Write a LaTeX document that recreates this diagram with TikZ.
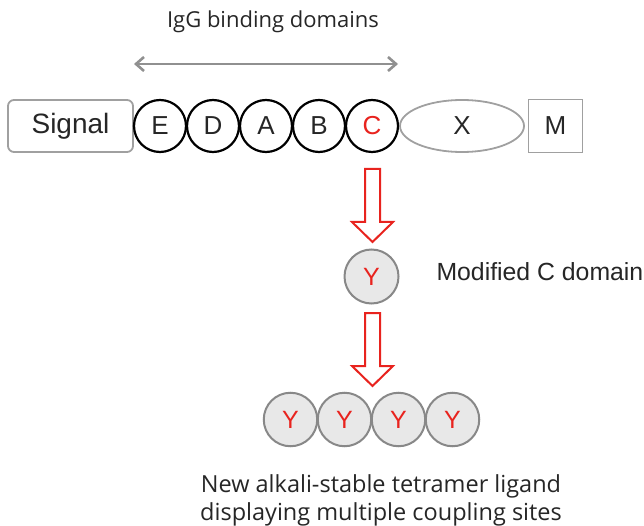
\documentclass[tikz,border=0pt]{standalone}
\usepackage{fontspec}
\setmainfont{Liberation Sans}
\newfontfamily\segoe{Open Sans}
\usetikzlibrary{shapes.geometric,arrows.meta}
\definecolor{txt}{HTML}{262626}
\definecolor{grayline}{HTML}{A0A0A0}
\definecolor{ared}{HTML}{E8231E}
\definecolor{yfill}{HTML}{E8E8E8}
\tikzset{
  lbl/.style={font=\fontsize{26}{30}\selectfont, text=txt},
  dom/.style={circle, draw=black, line width=2.2pt, minimum size=52pt, inner sep=0pt, lbl},
  ydom/.style={circle, draw=grayline!85!black, line width=2pt, fill=yfill, minimum size=53.5pt, inner sep=0pt, font=\fontsize{25}{30}\selectfont, text=ared},
  graybox/.style={draw=grayline, line width=1.8pt, lbl},
  hollow/.style={draw=ared, line width=2pt, fill=white, line join=miter},
}
\begin{document}
\begin{tikzpicture}[x=1pt,y=-1pt]
\useasboundingbox (0,0) rectangle (644,526);
% top label and double arrow
\node[font=\segoe\fontsize{22}{26}\selectfont, text=txt] (igg) at (273,22) {IgG binding domains};
\coordinate (al) at (134,64);
\coordinate (ar) at (398,64);
\draw[draw=grayline!90!black, line width=2.6pt, {Straight Barb[length=8pt,width=14pt]}-{Straight Barb[length=8pt,width=14pt]}] (al) -- (ar);
% main chain
\node[graybox, rounded corners=6pt, minimum width=125pt, minimum height=52pt, font=\fontsize{28}{32}\selectfont] (sig) at (70.5,126) {Signal};
\node[dom] (E) at (160,126) {E};
\node[dom] (D) at (213,126) {D};
\node[dom] (A) at (266,126) {A};
\node[dom] (B) at (319,126) {B};
\node[dom, text=ared] (C) at (372,126) {C};
\node[ellipse, draw=grayline, line width=1.8pt, minimum width=124pt, minimum height=52pt, inner sep=0pt, lbl] (X) at (462,126) {X};
\node[graybox, minimum width=54pt, minimum height=53pt, inner sep=0pt] (M) at (555.5,126) {M};
% modified domain
\node[ydom, minimum size=54pt] (Y) at (371.5,276.5) {Y};
\node[lbl, anchor=west, font=\fontsize{24.8}{28}\selectfont] (mod) at (433,272) {Modified C domain};
% hollow arrows
\draw[hollow] (365,169) -- (380,169) -- (380,222) -- (393,222) -- (372.5,242) -- (352,222) -- (365,222) -- cycle;
\draw[hollow] (365,313) -- (380,313) -- (380,366) -- (393,366) -- (372.5,386) -- (352,366) -- (365,366) -- cycle;
% tetramer
\node[ydom] (Y1) at (290.5,419.5) {Y};
\node[ydom] (Y2) at (344.5,419.5) {Y};
\node[ydom] (Y3) at (398.5,419.5) {Y};
\node[ydom] (Y4) at (452.5,419.5) {Y};
\node[font=\segoe\fontsize{23.5}{28}\selectfont, text=txt, align=center] (lig) at (381,500) {New alkali-stable tetramer ligand\\displaying multiple coupling sites};
\end{tikzpicture}
\end{document}
